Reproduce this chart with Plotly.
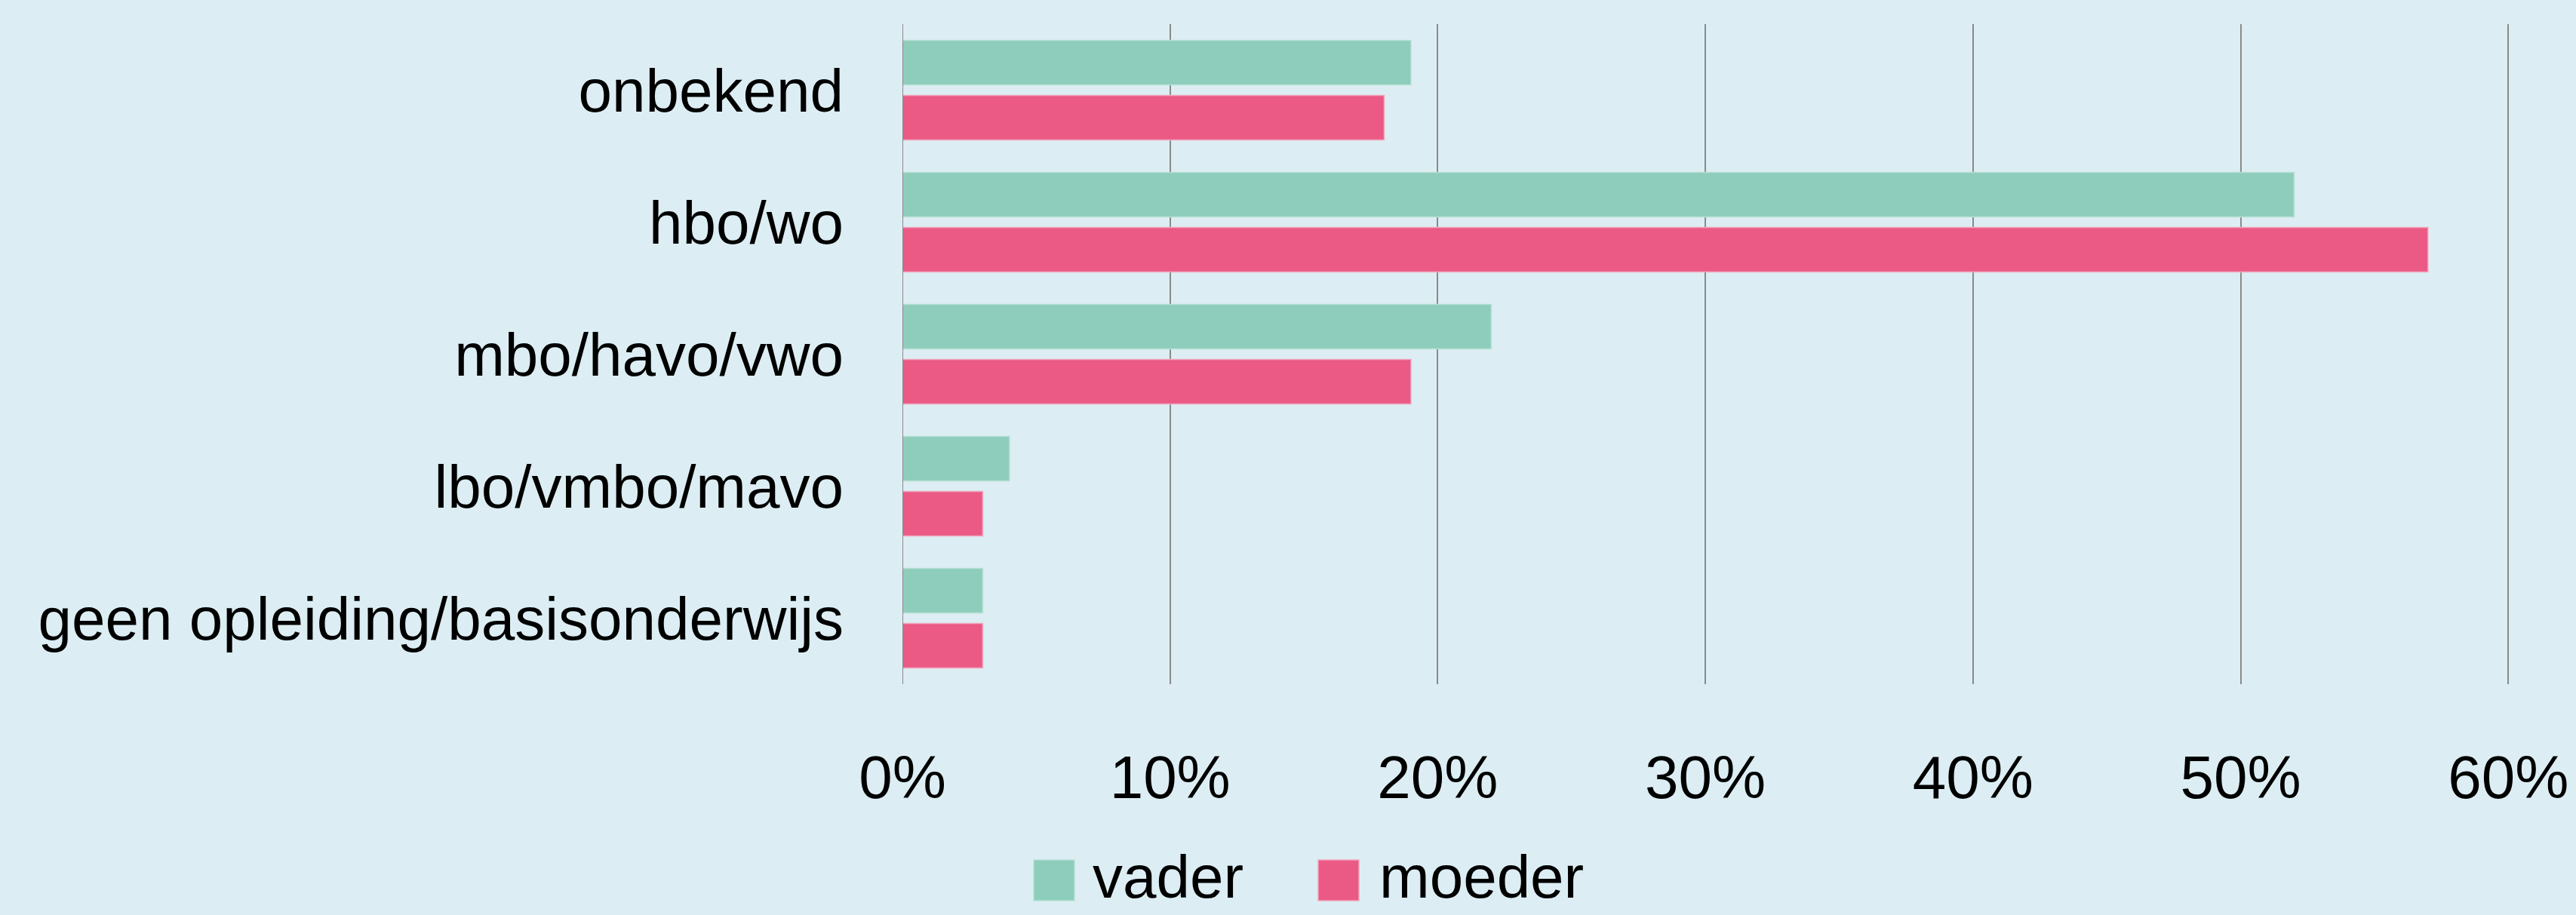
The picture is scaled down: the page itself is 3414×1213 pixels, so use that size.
import plotly.graph_objects as go

# data, top to bottom as shown
categories = ["onbekend", "hbo/wo", "mbo/havo/vwo", "lbo/vmbo/mavo", "geen opleiding/basisonderwijs"]
vader = [0.19, 0.52, 0.22, 0.04, 0.03]
moeder = [0.18, 0.57, 0.19, 0.03, 0.03]
series = ["vader", "moeder"]
colors = ["#8ECDBC", "#EA5A85"]
edge_colors = ["#B6E0D4", "#F2A5BD"]
tick_vals = [0, 0.1, 0.2, 0.3, 0.4, 0.5, 0.6]

W, H = 3414, 1213
ML, MR, MT, MB = 1196, 88, 32, 306
FONT = "Liberation Sans, Arial, sans-serif"
FS = 80

fig = go.Figure()
for name, vals, c, ec in zip(series, [vader, moeder], colors, edge_colors):
    fig.add_trace(go.Bar(
        y=categories,
        x=vals,
        name=name,
        orientation="h",
        marker=dict(color=c, line=dict(color=ec, width=1.5)),
        showlegend=False,
    ))

fig.update_layout(
    width=W,
    height=H,
    margin=dict(l=ML, r=MR, t=MT, b=MB),
    paper_bgcolor="#DCEEF3",
    plot_bgcolor="#DCEEF3",
    barmode="group",
    bargap=0.166,
    bargroupgap=0.19,
    font=dict(family=FONT, size=FS, color="#000000"),
)
fig.update_xaxes(
    range=[0, 0.6005],
    tickvals=tick_vals,
    tickformat=".0%",
    showgrid=True,
    gridcolor="#8A8A8A",
    gridwidth=2,
    zeroline=False,
    showline=False,
    ticks="",
    ticklabelstandoff=70,
    automargin=False,
)
fig.update_yaxes(
    autorange="reversed",
    showgrid=False,
    showline=False,
    ticks="",
    ticklabelstandoff=77,
    automargin=False,
)
# zero line on the left
fig.add_shape(type="line", xref="x", yref="paper", x0=0, x1=0, y0=0, y1=1,
              line=dict(color="#8A8A8A", width=2))

# legend with big square swatches
def px_x(p):
    return (p - ML) / (W - ML - MR)

def px_y(p):
    return (H - MB - p) / (H - MT - MB)

legend_items = [(1370, 1446), (1747, 1826)]
for (sx, tx), name, c, ec in zip(legend_items, series, colors, edge_colors):
    fig.add_shape(type="rect", xref="paper", yref="paper",
                  x0=px_x(sx), x1=px_x(sx + 54), y0=px_y(1194), y1=px_y(1140),
                  fillcolor=c, line=dict(color=ec, width=1.5))
    fig.add_annotation(xref="paper", yref="paper", x=px_x(tx), y=px_y(1162),
                       text=name, showarrow=False, xanchor="left", yanchor="middle",
                       font=dict(family=FONT, size=FS, color="#000000"))

fig.write_html("out.html", config={"displayModeBar": False},
               post_script="document.body.style.margin='0';")
